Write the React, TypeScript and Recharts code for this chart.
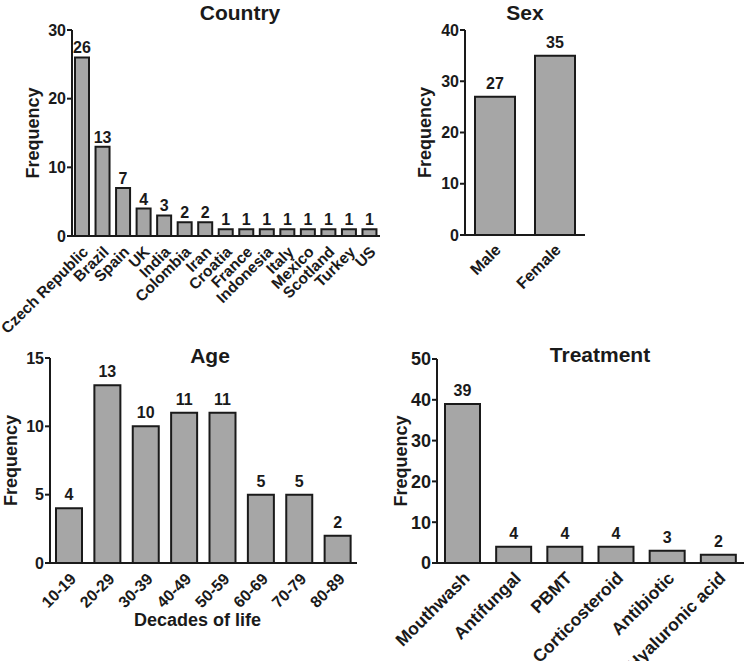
import React from "react"
import { Bar, BarChart, LabelList, XAxis, YAxis } from "recharts"

const FONT = '"Liberation Sans", Arial, Helvetica, sans-serif'
const INK = "#1a1a1a"
const BAR_FILL = "#a6a6a6"

// Country panel
const countryNames = ["Czech Republic", "Brazil", "Spain", "UK", "India", "Colombia", "Iran", "Croatia", "France", "Indonesia", "Italy", "Mexico", "Scotland", "Turkey", "US"]
const countryCounts = [26, 13, 7, 4, 3, 2, 2, 1, 1, 1, 1, 1, 1, 1, 1]
const countryTicks = [0, 10, 20, 30]

// Sex panel
const sexNames = ["Male", "Female"]
const sexCounts = [27, 35]
const sexTicks = [0, 10, 20, 30, 40]

// Age panel
const ageNames = ["10-19", "20-29", "30-39", "40-49", "50-59", "60-69", "70-79", "80-89"]
const ageCounts = [4, 13, 10, 11, 11, 5, 5, 2]
const ageTicks = [0, 5, 10, 15]

// Treatment panel
const treatmentNames = ["Mouthwash", "Antifungal", "PBMT", "Corticosteroid", "Antibiotic", "Hyaluronic acid"]
const treatmentCounts = [39, 4, 4, 4, 3, 2]
const treatmentTicks = [0, 10, 20, 30, 40, 50]

function RotatedTick(props: any) {
  const { x, y, payload, fontSize = 16, shiftX = 3, shiftY = 13 } = props
  const ax = x + shiftX
  const ay = y + shiftY
  return (
    <text
      x={ax}
      y={ay}
      textAnchor="end"
      dominantBaseline="central"
      transform={`rotate(-45 ${ax} ${ay})`}
      fontSize={fontSize}
      fontWeight="bold"
      fontFamily={FONT}
      fill={INK}
    >
      {payload.value}
    </text>
  )
}

interface PanelProps {
  names: string[]
  counts: number[]
  ticks: number[]
  left: number
  top: number
  width: number
  height: number
  margin: { top: number; right: number; left: number; bottom: number }
  yWidth: number
  xHeight: number
  barSize: number
  title: string
  titleX: number
  titleY: number
  freqDx: number
  tickFont: number
  xFont: number
  valueOffset: number
  xShift: number
  yShift: number
  xLabel?: string
}

function Panel(p: PanelProps) {
  const data = p.names.map((name, i) => ({ name, value: p.counts[i] }))
  return (
    <>
      <div
        style={{
          position: "absolute",
          left: p.titleX,
          top: p.titleY,
          transform: "translate(-50%, -50%)",
          fontFamily: FONT,
          fontWeight: "bold",
          fontSize: 21,
          lineHeight: "21px",
          color: INK,
          whiteSpace: "nowrap",
        }}
      >
        {p.title}
      </div>
      <div style={{ position: "absolute", left: p.left, top: p.top }}>
        <BarChart width={p.width} height={p.height} data={data} margin={p.margin} barSize={p.barSize}>
          <XAxis
            dataKey="name"
            interval={0}
            height={p.xHeight}
            tickLine={false}
            tickSize={0}
            tickMargin={0}
            axisLine={{ stroke: INK, strokeWidth: 2 }}
            tick={<RotatedTick fontSize={p.xFont} shiftX={p.xShift} shiftY={p.yShift} />}
            label={
              p.xLabel
                ? {
                    value: p.xLabel,
                    position: "insideBottom",
                    offset: 35,
                    dx: -6,
                    style: { fontFamily: FONT, fontWeight: "bold", fontSize: 18, fill: INK },
                  }
                : undefined
            }
          />
          <YAxis
            width={p.yWidth}
            domain={[p.ticks[0], p.ticks[p.ticks.length - 1]]}
            ticks={p.ticks}
            interval={0}
            tickSize={5}
            tickMargin={1}
            axisLine={{ stroke: INK, strokeWidth: 2 }}
            tickLine={{ stroke: INK, strokeWidth: 2 }}
            tick={{ fontFamily: FONT, fontWeight: "bold", fontSize: p.tickFont, fill: INK }}
            label={{
              value: "Frequency",
              angle: -90,
              position: "center",
              dx: p.freqDx,
              style: { fontFamily: FONT, fontWeight: "bold", fontSize: 18, fill: INK, textAnchor: "middle" },
            }}
          />
          <Bar dataKey="value" fill={BAR_FILL} stroke={INK} strokeWidth={2} isAnimationActive={false}>
            <LabelList
              dataKey="value"
              position="top"
              offset={p.valueOffset}
              fill={INK}
              fontSize={16}
              fontWeight="bold"
              fontFamily={FONT}
            />
          </Bar>
        </BarChart>
      </div>
    </>
  )
}

export default function App() {
  return (
    <div style={{ position: "absolute", left: 0, top: 0, width: 747, height: 661, background: "#fff", overflow: "hidden" }}>
      <Panel
        names={countryNames}
        counts={countryCounts}
        ticks={countryTicks}
        left={0}
        top={0}
        width={385}
        height={340}
        margin={{ top: 30, right: 5, left: 0, bottom: 0 }}
        yWidth={72}
        xHeight={104}
        barSize={14}
        title="Country"
        titleX={240}
        titleY={12}
        freqDx={-3}
        tickFont={16}
        xFont={15.5}
        xShift={3}
        yShift={13}
        valueOffset={4}
      />
      <Panel
        names={sexNames}
        counts={sexCounts}
        ticks={sexTicks}
        left={380}
        top={0}
        width={367}
        height={340}
        margin={{ top: 30, right: 162, left: 0, bottom: 0 }}
        yWidth={85}
        xHeight={105}
        barSize={40}
        title="Sex"
        titleX={525}
        titleY={12}
        freqDx={2}
        tickFont={16}
        xFont={16}
        xShift={3}
        yShift={12}
        valueOffset={8}
      />
      <Panel
        names={ageNames}
        counts={ageCounts}
        ticks={ageTicks}
        left={0}
        top={340}
        width={380}
        height={321}
        margin={{ top: 18, right: 23, left: 0, bottom: 0 }}
        yWidth={50}
        xHeight={98}
        barSize={26}
        title="Age"
        titleX={210}
        titleY={355}
        freqDx={-14}
        tickFont={16}
        xFont={16}
        xShift={4}
        yShift={13}
        valueOffset={8}
        xLabel="Decades of life"
      />
      <Panel
        names={treatmentNames}
        counts={treatmentCounts}
        ticks={treatmentTicks}
        left={380}
        top={340}
        width={367}
        height={321}
        margin={{ top: 19, right: 3, left: 0, bottom: 0 }}
        yWidth={57}
        xHeight={98}
        barSize={35}
        title="Treatment"
        titleX={600}
        titleY={354}
        freqDx={-8}
        tickFont={18}
        xFont={17.5}
        xShift={4}
        yShift={12}
        valueOffset={8}
      />
    </div>
  )
}
